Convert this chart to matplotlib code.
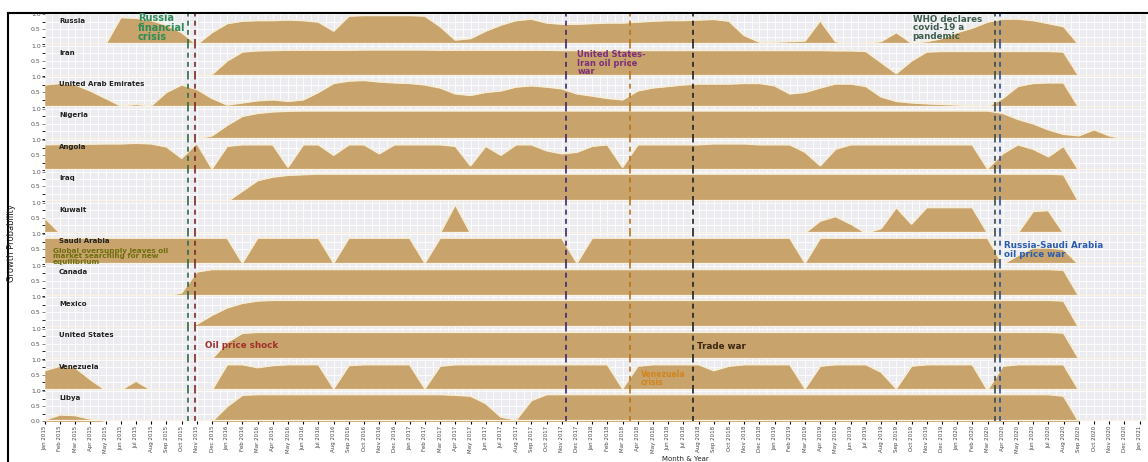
import matplotlib
matplotlib.use("Agg")
import matplotlib.pyplot as plt
from matplotlib.lines import Line2D
from matplotlib.ticker import MultipleLocator
import numpy as np
import pandas as pd

months = pd.date_range("2015-01-01", "2021-01-01", freq="MS")
monthLabels = [m.strftime("%b %Y") for m in months]

countries = ["Russia", "Iran", "United Arab Emirates", "Nigeria", "Angola", "Iraq",
             "Kuwait", "Saudi Arabia", "Canada", "Mexico", "United States",
             "Venezuela", "Libya"]

russia = [0, 0, 0, 0, 0, 0.9, 0.88, 0.8, 0.65, 0.4,
          0, 0.4, 0.7, 0.78, 0.8, 0.8, 0.82, 0.8, 0.75, 0.45,
          0.95, 0.97, 0.97, 0.97, 0.97, 0.95, 0.6, 0.15, 0.2, 0.45,
          0.65, 0.8, 0.85, 0.72, 0.68, 0.68, 0.7, 0.72, 0.72, 0.75,
          0.78, 0.8, 0.8, 0.82, 0.84, 0.78, 0.3, 0.08, 0.08, 0.1,
          0.12, 0.8, 0.1, 0, 0.05, 0.1, 0.4, 0.05, 0.1, 0.2,
          0.4, 0.55, 0.75, 0.85, 0.85, 0.8, 0.7, 0.6, 0, 0,
          0, 0, 0]
iran = [0, 0, 0, 0, 0, 0, 0, 0, 0, 0,
        0, 0.05, 0.5, 0.8, 0.84, 0.85, 0.86, 0.86, 0.86, 0.86,
        0.86, 0.87, 0.87, 0.87, 0.87, 0.87, 0.86, 0.86, 0.86, 0.86,
        0.86, 0.86, 0.86, 0.86, 0.85, 0.85, 0.85, 0.85, 0.85, 0.85,
        0.85, 0.85, 0.85, 0.85, 0.85, 0.85, 0.85, 0.85, 0.85, 0.85,
        0.85, 0.85, 0.84, 0.84, 0.82, 0.45, 0.08, 0.5, 0.8, 0.82,
        0.82, 0.82, 0.82, 0.82, 0.82, 0.82, 0.82, 0.8, 0, 0,
        0, 0, 0]
uae = [0.75, 0.8, 0.75, 0.55, 0.3, 0.05, 0.1, 0.05, 0.5, 0.75,
       0.6, 0.3, 0.08, 0.15, 0.22, 0.25, 0.2, 0.25, 0.5, 0.8,
       0.88, 0.9, 0.85, 0.82, 0.8, 0.75, 0.65, 0.45, 0.4, 0.5,
       0.55, 0.68, 0.72, 0.68, 0.62, 0.45, 0.38, 0.3, 0.25, 0.55,
       0.65, 0.7, 0.75, 0.78, 0.78, 0.78, 0.8, 0.8, 0.72, 0.45,
       0.5, 0.65, 0.78, 0.78, 0.7, 0.35, 0.2, 0.15, 0.12, 0.1,
       0.08, 0.05, 0.02, 0.3, 0.7, 0.8, 0.82, 0.82, 0, 0,
       0, 0, 0]
nigeria = [0, 0, 0, 0, 0, 0, 0, 0, 0, 0,
           0, 0.1, 0.45, 0.75, 0.85, 0.9, 0.92, 0.93, 0.93, 0.93,
           0.93, 0.93, 0.93, 0.93, 0.93, 0.93, 0.93, 0.93, 0.93, 0.93,
           0.93, 0.93, 0.93, 0.93, 0.93, 0.93, 0.93, 0.93, 0.93, 0.93,
           0.93, 0.93, 0.93, 0.93, 0.93, 0.93, 0.93, 0.93, 0.93, 0.93,
           0.93, 0.93, 0.93, 0.93, 0.93, 0.93, 0.93, 0.93, 0.93, 0.93,
           0.93, 0.93, 0.93, 0.85, 0.65, 0.5, 0.3, 0.15, 0.1, 0.3,
           0.1, 0, 0]
angola = [0.85, 0.86, 0.86, 0.87, 0.88, 0.88, 0.9, 0.88, 0.78, 0.4,
          0.9, 0.05, 0.8, 0.85, 0.85, 0.85, 0.1, 0.85, 0.85, 0.5,
          0.85, 0.85, 0.55, 0.85, 0.85, 0.85, 0.85, 0.8, 0.15, 0.8,
          0.5, 0.85, 0.85, 0.65, 0.55, 0.6, 0.8, 0.85, 0.1, 0.85,
          0.85, 0.85, 0.85, 0.85, 0.88, 0.88, 0.88, 0.85, 0.85, 0.85,
          0.6, 0.15, 0.7, 0.85, 0.85, 0.85, 0.85, 0.85, 0.85, 0.85,
          0.85, 0.85, 0.05, 0.55, 0.85, 0.7, 0.45, 0.8, 0, 0,
          0, 0, 0]
iraq = [0, 0, 0, 0, 0, 0, 0, 0, 0, 0,
        0, 0, 0, 0.35, 0.7, 0.82, 0.88, 0.9, 0.92, 0.92,
        0.92, 0.92, 0.92, 0.92, 0.92, 0.92, 0.92, 0.92, 0.92, 0.92,
        0.92, 0.92, 0.92, 0.92, 0.92, 0.92, 0.92, 0.92, 0.92, 0.92,
        0.92, 0.92, 0.92, 0.92, 0.92, 0.92, 0.92, 0.92, 0.92, 0.92,
        0.92, 0.92, 0.92, 0.92, 0.92, 0.92, 0.92, 0.92, 0.92, 0.92,
        0.92, 0.92, 0.92, 0.92, 0.92, 0.92, 0.92, 0.9, 0, 0,
        0, 0, 0]
kuwait = [0.5, 0, 0, 0, 0, 0, 0, 0, 0, 0,
          0, 0, 0, 0, 0, 0, 0, 0, 0, 0,
          0, 0, 0, 0, 0, 0, 0, 0.95, 0, 0,
          0, 0, 0, 0, 0, 0, 0, 0, 0, 0,
          0, 0, 0, 0, 0, 0, 0, 0, 0, 0,
          0, 0.4, 0.55, 0.3, 0, 0.15, 0.85, 0.3, 0.85, 0.85,
          0.85, 0.85, 0, 0, 0, 0.72, 0.75, 0, 0, 0,
          0, 0, 0]
saudi = [0.88, 0.88, 0.88, 0.88, 0.88, 0.88, 0.88, 0.88, 0.88, 0.88,
         0.88, 0.88, 0.88, 0.05, 0.88, 0.88, 0.88, 0.88, 0.88, 0.05,
         0.88, 0.88, 0.88, 0.88, 0.88, 0.05, 0.88, 0.88, 0.88, 0.88,
         0.88, 0.88, 0.88, 0.88, 0.88, 0.05, 0.88, 0.88, 0.88, 0.88,
         0.88, 0.88, 0.88, 0.88, 0.88, 0.88, 0.88, 0.88, 0.88, 0.88,
         0.05, 0.88, 0.88, 0.88, 0.88, 0.88, 0.88, 0.88, 0.88, 0.88,
         0.88, 0.88, 0.88, 0, 0.3, 0.55, 0.55, 0.5, 0, 0,
         0, 0, 0]
canada = [0, 0, 0, 0, 0, 0, 0, 0, 0, 0.1,
          0.8, 0.88, 0.88, 0.88, 0.88, 0.88, 0.88, 0.88, 0.88, 0.88,
          0.88, 0.88, 0.88, 0.88, 0.88, 0.88, 0.88, 0.88, 0.88, 0.88,
          0.88, 0.88, 0.88, 0.88, 0.88, 0.88, 0.88, 0.88, 0.88, 0.88,
          0.88, 0.88, 0.88, 0.88, 0.88, 0.88, 0.88, 0.88, 0.88, 0.88,
          0.88, 0.88, 0.88, 0.88, 0.88, 0.88, 0.88, 0.88, 0.88, 0.88,
          0.88, 0.88, 0.88, 0.88, 0.88, 0.88, 0.88, 0.86, 0, 0,
          0, 0, 0]
mexico = [0, 0, 0, 0, 0, 0, 0, 0, 0, 0,
          0.1, 0.4, 0.65, 0.8, 0.88, 0.9, 0.9, 0.9, 0.9, 0.9,
          0.9, 0.9, 0.9, 0.9, 0.9, 0.9, 0.9, 0.9, 0.9, 0.9,
          0.9, 0.9, 0.9, 0.9, 0.9, 0.9, 0.9, 0.9, 0.9, 0.9,
          0.9, 0.9, 0.9, 0.9, 0.9, 0.9, 0.9, 0.9, 0.9, 0.9,
          0.9, 0.9, 0.9, 0.9, 0.9, 0.9, 0.9, 0.9, 0.9, 0.9,
          0.9, 0.9, 0.9, 0.9, 0.9, 0.9, 0.9, 0.88, 0, 0,
          0, 0, 0]
unitedStates = [0, 0, 0, 0, 0, 0, 0, 0, 0, 0,
                0, 0, 0.55, 0.85, 0.88, 0.88, 0.88, 0.88, 0.88, 0.88,
                0.88, 0.88, 0.88, 0.88, 0.88, 0.88, 0.88, 0.88, 0.88, 0.88,
                0.88, 0.88, 0.88, 0.88, 0.88, 0.88, 0.88, 0.88, 0.88, 0.88,
                0.88, 0.88, 0.88, 0.88, 0.88, 0.88, 0.88, 0.88, 0.88, 0.88,
                0.88, 0.88, 0.88, 0.88, 0.88, 0.88, 0.88, 0.88, 0.88, 0.88,
                0.88, 0.88, 0.88, 0.88, 0.88, 0.88, 0.88, 0.86, 0, 0,
                0, 0, 0]
venezuela = [0.65, 0.8, 0.75, 0.35, 0, 0, 0.3, 0, 0, 0,
             0, 0, 0.85, 0.85, 0.75, 0.82, 0.85, 0.85, 0.85, 0.05,
             0.82, 0.85, 0.85, 0.85, 0.85, 0.05, 0.8, 0.85, 0.85, 0.85,
             0.85, 0.85, 0.85, 0.85, 0.85, 0.85, 0.85, 0.85, 0.05, 0.8,
             0.85, 0.85, 0.85, 0.85, 0.65, 0.8, 0.85, 0.85, 0.85, 0.85,
             0.05, 0.8, 0.85, 0.85, 0.85, 0.6, 0.05, 0.8, 0.85, 0.85,
             0.85, 0.85, 0, 0.8, 0.85, 0.85, 0.85, 0.85, 0, 0,
             0, 0, 0]
libya = [0.05, 0.22, 0.2, 0.08, 0, 0, 0, 0, 0, 0,
         0, 0, 0.5, 0.88, 0.9, 0.9, 0.9, 0.9, 0.9, 0.9,
         0.9, 0.9, 0.9, 0.9, 0.9, 0.9, 0.9, 0.88, 0.85, 0.6,
         0.15, 0.05, 0.7, 0.9, 0.9, 0.9, 0.9, 0.9, 0.9, 0.9,
         0.9, 0.9, 0.9, 0.9, 0.9, 0.9, 0.9, 0.9, 0.9, 0.9,
         0.9, 0.9, 0.9, 0.9, 0.9, 0.9, 0.9, 0.9, 0.9, 0.9,
         0.9, 0.9, 0.9, 0.9, 0.9, 0.9, 0.9, 0.85, 0, 0,
         0, 0, 0]

series = [russia, iran, uae, nigeria, angola, iraq, kuwait, saudi,
          canada, mexico, unitedStates, venezuela, libya]

# event lines: month position, colour
eventPos = [9.4, 9.9, 34.3, 38.5, 42.6, 62.5, 62.85]
eventColors = ["#2E6B4F", "#7A2A2A", "#3D2A6B", "#B8741E", "#222222", "#3A4A44", "#2A4F9A"]

FILL = "#C8A46C"


def main():
    fig, axes = plt.subplots(len(countries), 1, sharex=True, figsize=(11.48, 4.62), dpi=100)
    fig.subplots_adjust(left=0.039, right=0.998, top=0.972, bottom=0.088, hspace=0)
    x = np.arange(len(months))

    for i, ax in enumerate(axes):
        ax.set_facecolor("#ECECF0")
        ax.fill_between(x, series[i], color=FILL, lw=0, zorder=2)
        ax.plot(x, series[i], color="#F6EEDC", lw=1.3, zorder=3)
        ax.axhline(0, color="#FBF4E4", lw=1.6, zorder=4)
        ax.set_ylim(0, 1.05)
        ax.set_xlim(0, 72.4)
        ax.xaxis.set_major_locator(MultipleLocator(1))
        ax.xaxis.set_minor_locator(MultipleLocator(0.5))
        ax.yaxis.set_minor_locator(MultipleLocator(0.25))
        ax.grid(True, which="both", color="white", lw=0.6, zorder=1)
        ax.set_axisbelow(True)
        for s in ax.spines.values():
            s.set_visible(False)
        ax.set_yticks([0.5, 1.0] if i < len(countries) - 1 else [0, 0.5, 1.0])
        ax.tick_params(axis="y", labelsize=4.5, colors="#555555", length=2, width=0.5, pad=1)
        ax.tick_params(axis="x", which="both", length=0)
        ax.text(0.013, 0.74, countries[i], transform=ax.transAxes, fontsize=5,
                fontweight="bold", va="center", color="#222222", zorder=6)
        for pos, col in zip(eventPos, eventColors):
            ax.axvline(pos, color=col, lw=1.2, ls=(0, (3, 2.5)), zorder=5)

    axes[-1].set_xticks(x)
    axes[-1].set_xticklabels(monthLabels, rotation=90, fontsize=4.0, color="#444444")
    axes[-1].tick_params(axis="x", which="major", length=2, pad=1)

    fig.text(0.597, 0.0, "Month & Year", ha="center", va="bottom", fontsize=5, color="#222222")
    fig.text(0.010, 0.474, "Growth Probability", rotation=90, ha="center", va="center",
             fontsize=6, color="#222222")

    # event annotations
    bold = dict(fontweight="bold", va="top", ha="left", linespacing=0.95, zorder=10)
    fig.text(0.120, 0.972, "Russia\nfinancial\ncrisis", fontsize=7, color="#2E8B57", **bold)
    fig.text(0.503, 0.892, "United States-\nIran oil price\nwar", fontsize=6, color="#7D2E7D", **bold)
    fig.text(0.795, 0.968, "WHO declares\ncovid-19 a\npandemic", fontsize=6.3, color="#3E5E4E", **bold)
    fig.text(0.046, 0.463, "Global oversupply leaves oil\nmarket searching for new\nequilibrium",
             fontsize=5.2, color="#6E6E0E", fontweight="bold", va="top", ha="left",
             linespacing=0.85, zorder=10)
    fig.text(0.179, 0.262, "Oil price shock", fontsize=6.3, color="#A0302A", **bold)
    fig.text(0.558, 0.200, "Venezuela\ncrisis", fontsize=5.5, color="#D2841E", **bold)
    fig.text(0.607, 0.260, "Trade war", fontsize=6.3, color="#3B2414", **bold)
    fig.text(0.875, 0.478, "Russia-Saudi Arabia\noil price war", fontsize=6.3, color="#2A5DB0", **bold)

    # frame of the screenshot
    yTop = 1 - 13 / 462
    xLeft = 8 / 1148
    fig.add_artist(Line2D([xLeft, 1], [yTop, yTop], color="black", lw=1.5, transform=fig.transFigure))
    fig.add_artist(Line2D([xLeft, xLeft], [0, yTop], color="black", lw=1.5, transform=fig.transFigure))

    fig.savefig("out.png", dpi=100)


if __name__ == "__main__":
    main()
